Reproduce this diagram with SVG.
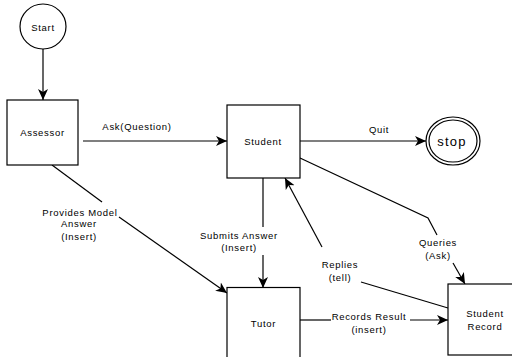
<svg xmlns="http://www.w3.org/2000/svg" width="512" height="357" viewBox="0 0 512 357">
<defs>
<marker id="arr" markerUnits="userSpaceOnUse" markerWidth="12" markerHeight="12" viewBox="0 0 12 10" refX="11" refY="5" orient="auto">
<path d="M0,0 L11,5 L0,10 L3,5 z" fill="#000"/>
</marker>
<style>
.n{fill:#fff;stroke:#000;stroke-width:1.2}
.c{fill:none;stroke:#000;stroke-width:1.2}
.t{font-family:"Liberation Sans",Arial,sans-serif;font-size:9.5px;letter-spacing:0.7px;fill:#000;text-anchor:middle}
</style>
</defs>
<rect width="512" height="357" fill="#fff"/>
<g id="connectors">
<path class="c" d="M43,49 L43,100" stroke-width="1.5" marker-end="url(#arr)"/>
<path class="c" d="M83,141 L227,141" marker-end="url(#arr)"/>
<path class="c" d="M300,141 L426,141" marker-end="url(#arr)"/>
<path class="c" d="M52,165 L102,202"/>
<path class="c" d="M119,217 L227,293" marker-end="url(#arr)"/>
<path class="c" d="M263,178 L263,227"/>
<path class="c" d="M263,255 L263,288" marker-end="url(#arr)"/>
<path class="c" d="M300,158 L428,218 L437,235"/>
<path class="c" d="M453,263 L465,284" marker-end="url(#arr)"/>
<path class="c" d="M448,308 L361,282"/>
<path class="c" d="M322,247 L285,178" marker-end="url(#arr)"/>
<path class="c" d="M300,320 L331,320"/>
<path class="c" d="M410,320 L448,320" marker-end="url(#arr)"/>
<text class="t" x="137" y="130">Ask(Question)</text>
<text class="t" x="379" y="133">Quit</text>
<text class="t" x="80" y="215.5">Provides Model</text>
<text class="t" x="79" y="227">Answer</text>
<text class="t" x="79" y="239.5">(Insert)</text>
<text class="t" x="239" y="238.8">Submits Answer</text>
<text class="t" x="239" y="251">(Insert)</text>
<text class="t" x="438" y="246">Queries</text>
<text class="t" x="438" y="259">(Ask)</text>
<text class="t" x="340" y="268">Replies</text>
<text class="t" x="340" y="280.5">(tell)</text>
<text class="t" x="369" y="320">Records Result</text>
<text class="t" x="369" y="333">(insert)</text>
</g>
<g id="start">
<ellipse class="n" cx="43" cy="26.5" rx="23" ry="22.5"/>
<text class="t" x="43" y="30.5">Start</text>
</g>
<g id="assessor">
<rect class="n" x="7" y="100" width="71" height="65"/>
<text class="t" x="42.5" y="136">Assessor</text>
</g>
<g id="student">
<rect class="n" x="227" y="105" width="73" height="73"/>
<text class="t" x="263" y="144.5">Student</text>
</g>
<g id="stop">
<ellipse class="n" cx="453" cy="141" rx="27" ry="24"/>
<ellipse class="n" cx="453" cy="141" rx="24" ry="21"/>
<text class="t" x="452" y="145.5" style="font-size:13px;letter-spacing:1.2px">stop</text>
</g>
<g id="tutor">
<rect class="n" x="227" y="287.5" width="73" height="80"/>
<text class="t" x="263.5" y="327">Tutor</text>
</g>
<g id="student-record">
<rect class="n" x="448" y="284" width="80" height="71"/>
<text class="t" x="485" y="317">Student</text>
<text class="t" x="485" y="329.5">Record</text>
</g>
</svg>
